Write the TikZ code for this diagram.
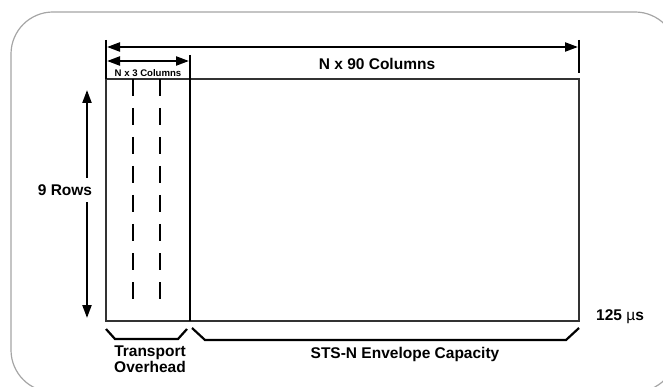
\documentclass[tikz,border=0pt]{standalone}
\usepackage{fontspec}
\setmainfont{Liberation Sans}
\usetikzlibrary{
    positioning,
    arrows.meta
}
\definecolor{FrameGray}{RGB}{165,165,165}
\definecolor{BoxGray}{RGB}{50,50,50}

\begin{document}
\begin{tikzpicture}[
    x=1pt, y=-1pt,
    frame/.style={draw=FrameGray, line width=1.2pt, rounded corners=42pt},
    box/.style={draw=BoxGray, line width=1.4pt},
    bar/.style={line width=2.2pt},
    dim/.style={line width=2.2pt, {Triangle[length=13pt,width=9pt]}-{Triangle[length=13pt,width=9pt]}},
    cut/.style={line width=2pt, dash pattern=on 17pt off 12pt},
    brace/.style={line width=2.2pt, line join=miter},
    lbl/.style={font=\bfseries\fontsize{15.5}{16}\selectfont, inner sep=1pt, align=center},
    small/.style={font=\bfseries\fontsize{9.6}{10}\selectfont, inner sep=1pt},
]
\useasboundingbox (0,0) rectangle (663,387);
\clip (0,0) rectangle (663,387);
\draw[frame] (11,12) rectangle (677,392);

% frame corners
\coordinate (nw) at (106,79);
\coordinate (se) at (579,321);
\coordinate (ohtop) at (190,55);
\coordinate (ohbot) at (190,321);

\draw[box] (nw) rectangle (se);
\draw[bar] (ohtop) -- (ohbot);

% overhead columns
\coordinate (c1top) at (133,79);
\coordinate (c1bot) at (133,309);
\coordinate (c2top) at (160,79);
\coordinate (c2bot) at (160,309);
\draw[cut] (c1top) -- (c1bot);
\draw[cut] (c2top) -- (c2bot);

% ticks
\coordinate (ltick) at (106,40);
\coordinate (rtick) at (579,40);
\coordinate (rtickend) at (579,73);
\draw[bar] (ltick) -- (nw);
\draw[bar] (rtick) -- (rtickend);

% dimensions
\coordinate (wleft) at (107,47);
\coordinate (wright) at (578,47);
\coordinate (oleft) at (107,61);
\coordinate (oright) at (189,61);
\coordinate (htop) at (87,90);
\coordinate (hbot) at (87,318);
\draw[dim] (wleft) -- (wright);
\draw[dim] (oleft) -- (oright);
\draw[dim] (htop) -- (hbot);

\node[small] (cols3) at (148,73) {N x 3 Columns};
\node[lbl] (cols90) at (377,64) {N x 90 Columns};
\node[lbl, fill=white, inner xsep=1pt, inner ysep=7pt] (rows) at (65,190) {9 Rows};
\node[lbl, anchor=west] (period) at (595,317) {125 {\mdseries µ}s};

% braces
\coordinate (b1a) at (106,329);
\coordinate (b1b) at (115,339);
\coordinate (b1c) at (178,339);
\coordinate (b1d) at (187,329);
\coordinate (b2a) at (192,328);
\coordinate (b2b) at (205,340);
\coordinate (b2c) at (566,340);
\coordinate (b2d) at (579,328);
\draw[brace] (b1a) -- (b1b) -- (b1c) -- (b1d);
\draw[brace] (b2a) -- (b2b) -- (b2c) -- (b2d);

\node[lbl] (toh) at (150,359) {Transport\\Overhead};
\node[lbl] (spe) at (405,354) {STS-N Envelope Capacity};
\end{tikzpicture}
\end{document}
